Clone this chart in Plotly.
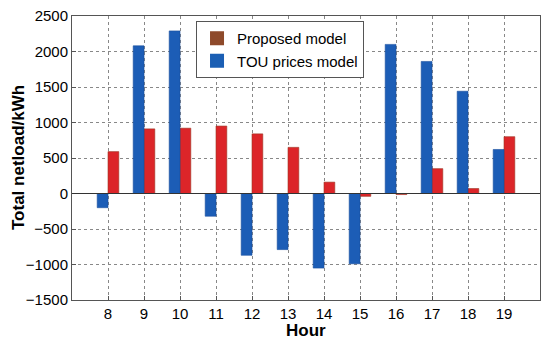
import plotly.graph_objects as go

hours = [8, 9, 10, 11, 12, 13, 14, 15, 16, 17, 18, 19]
tou_prices_model = [-200, 2080, 2290, -320, -870, -790, -1050, -990, 2100, 1860, 1440, 620]
proposed_model = [590, 910, 920, 950, 840, 650, 160, -40, -15, 350, 70, 800]

FONT = "Liberation Sans, Arial, sans-serif"

fig = go.Figure()
fig.add_trace(go.Bar(
    x=hours, y=proposed_model, name="Proposed model", showlegend=False,
    width=0.3, offset=0,
    marker=dict(color="#dc2529", line=dict(color="#9a3524", width=0.6)),
))
fig.add_trace(go.Bar(
    x=hours, y=tou_prices_model, name="TOU prices model", showlegend=False,
    width=0.3, offset=-0.3,
    marker=dict(color="#1c5db6", line=dict(color="#1a4f9e", width=0.6)),
))
# legend entries (legend patches as in the reference)
fig.add_trace(go.Bar(x=[None], y=[None], name="Proposed model",
                     marker=dict(color="#8e4a2b", line=dict(color="#8e4a2b", width=2.5))))
fig.add_trace(go.Bar(x=[None], y=[None], name="TOU prices model",
                     marker=dict(color="#1b5fb4", line=dict(color="#1b5fb4", width=2.5))))

axis_common = dict(
    showline=True, linecolor="#555555", linewidth=1, mirror=True,
    showgrid=True, gridcolor="#888888", griddash="dot", gridwidth=1,
    ticks="inside", ticklen=4, tickcolor="#555555",
    tickfont=dict(family=FONT, size=15, color="black"),
    zeroline=False, automargin=False, ticklabeloverflow="allow",
)

fig.update_layout(
    width=542, height=337,
    margin=dict(l=64, r=10, t=8, b=45),
    paper_bgcolor="white", plot_bgcolor="white",
    barmode="overlay",
    showlegend=True,
    legend=dict(
        x=0.265, y=0.982, xanchor="left", yanchor="top",
        bgcolor="white", bordercolor="#555555", borderwidth=1,
        font=dict(family=FONT, size=15, color="black"),
        traceorder="normal", tracegroupgap=0,
        itemsizing="constant", itemwidth=30,
    ),
    xaxis=dict(
        range=[7, 20], tickvals=hours, ticktext=[str(h) for h in hours],
        **axis_common,
    ),
    yaxis=dict(
        range=[-1500, 2500], tickvals=list(range(-1500, 2501, 500)),
        **axis_common,
    ),
    shapes=[dict(type="line", xref="paper", x0=0, x1=1, yref="y", y0=0, y1=0,
                 line=dict(color="#333333", width=1))],
    annotations=[
        dict(text="<b>Hour</b>", xref="paper", yref="paper", x=0.5, y=0,
             xanchor="center", yanchor="middle", yshift=-30, showarrow=False,
             font=dict(family=FONT, size=17, color="black")),
        dict(text="<b>Total netload/kWh</b>", xref="paper", yref="paper", x=0, y=0.5,
             xanchor="center", yanchor="middle", xshift=-54, textangle=-90, showarrow=False,
             font=dict(family=FONT, size=17, color="black")),
    ],
)

fig.write_html("out.html")
